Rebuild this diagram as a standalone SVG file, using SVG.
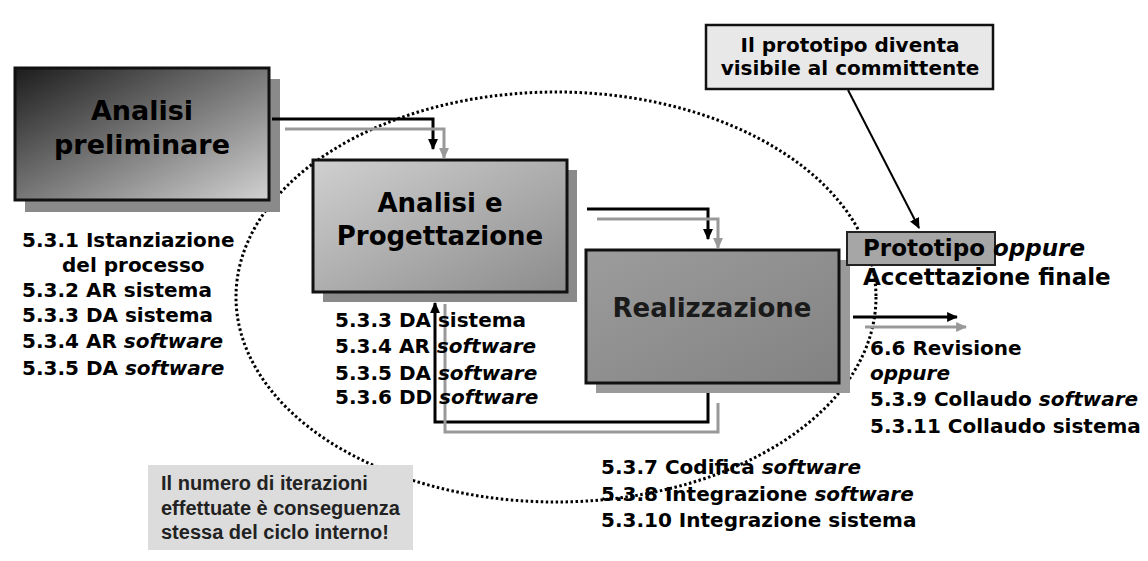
<svg xmlns="http://www.w3.org/2000/svg" width="1148" height="561" viewBox="0 0 1148 561">
<style>
.t{font-family:"DejaVu Sans",Verdana,sans-serif;font-weight:bold;fill:#000}
.i{font-style:italic}
.box{stroke:#111;stroke-width:3}
.sh{fill:#8a8a8a}
.blk{fill:none;stroke:#000;stroke-width:3}
.gry{fill:none;stroke:#999;stroke-width:3}
</style>
<defs>
<linearGradient id="g1" x1="0" y1="0" x2="1" y2="1"><stop offset="0" stop-color="#1c1c1c"/><stop offset="1" stop-color="#d2d2d2"/></linearGradient>
<linearGradient id="g2" x1="0" y1="0" x2="1" y2="1"><stop offset="0" stop-color="#d0d0d0"/><stop offset="1" stop-color="#8c8c8c"/></linearGradient>
<linearGradient id="g3" x1="0" y1="0" x2="1" y2="1"><stop offset="0" stop-color="#9c9c9c"/><stop offset="1" stop-color="#828282"/></linearGradient>
<marker id="ab" viewBox="0 0 10 10" refX="9" refY="5" markerWidth="11" markerHeight="11" orient="auto" markerUnits="userSpaceOnUse"><path d="M0,0.5 L10,5 L0,9.5 z" fill="#000"/></marker>
<marker id="ag" viewBox="0 0 10 10" refX="9" refY="5" markerWidth="11" markerHeight="11" orient="auto" markerUnits="userSpaceOnUse"><path d="M0,0.5 L10,5 L0,9.5 z" fill="#999"/></marker>
</defs>
<rect width="1148" height="561" fill="#fff"/>

<g id="cycle">
<ellipse cx="556" cy="297" rx="320" ry="205" fill="none" stroke="#000" stroke-width="3" stroke-dasharray="2.5 2.5"/>
</g>

<g id="node-analisi-preliminare">
<rect class="sh" x="25" y="79" width="255" height="133"/>
<rect class="box" x="15" y="68" width="254" height="132" fill="url(#g1)"/>
<text class="t" x="142" y="120" font-size="27" text-anchor="middle">Analisi</text>
<text class="t" x="142" y="154" font-size="27" text-anchor="middle">preliminare</text>
</g>

<g id="node-analisi-progettazione">
<rect class="sh" x="323" y="170" width="254" height="132"/>
<rect class="box" x="313" y="160" width="254" height="132" fill="url(#g2)"/>
<text class="t" x="440" y="212" font-size="26" text-anchor="middle">Analisi e</text>
<text class="t" x="440" y="245" font-size="26" text-anchor="middle">Progettazione</text>
</g>

<g id="node-realizzazione">
<rect x="596" y="260" width="254" height="133" fill="#9a9a9a"/>
<rect class="box" x="586" y="250" width="253" height="133" fill="url(#g3)"/>
<text class="t" x="712" y="317" font-size="26" text-anchor="middle" style="fill:#1a1a1a">Realizzazione</text>
</g>

<g id="node-callout">
<rect x="706" y="25" width="287" height="64" fill="#e8e8e8" stroke="#111" stroke-width="2.5"/>
<text class="t" x="850" y="52" font-size="20" text-anchor="middle">Il prototipo diventa</text>
<text class="t" x="850" y="75" font-size="20" text-anchor="middle">visibile al committente</text>
</g>

<g id="node-prototipo">
<rect x="847" y="232" width="148" height="33" fill="#a6a6a6" stroke="#222" stroke-width="2"/>
<text class="t" x="863" y="256" font-size="23">Prototipo <tspan class="i">oppure</tspan></text>
<text class="t" x="863" y="285" font-size="23">Accettazione finale</text>
</g>

<g id="connectors">
<path class="blk" d="M272,119 H433 V149" marker-end="url(#ab)"/>
<path class="gry" d="M285,129 H444 V158" marker-end="url(#ag)"/>
<path class="blk" d="M587,209 H708 V239" marker-end="url(#ab)"/>
<path class="gry" d="M597,219 H718 V248" marker-end="url(#ag)"/>
<path class="blk" d="M853,317 H957" marker-end="url(#ab)"/>
<path class="gry" d="M865,327 H966" marker-end="url(#ag)"/>
<path class="blk" d="M708,393 V422 H435 V303" marker-end="url(#ab)"/>
<path class="gry" d="M718,403 V432 H445 V304"/>
<path d="M848,90 L919,228" fill="none" stroke="#000" stroke-width="2" marker-end="url(#ab)"/>
</g>

<g id="labels-preliminare">
<text class="t" font-size="20" x="22" y="247">5.3.1 Istanziazione</text>
<text class="t" font-size="20" x="62" y="272">del processo</text>
<text class="t" font-size="20" x="22" y="297">5.3.2 AR sistema</text>
<text class="t" font-size="20" x="22" y="322">5.3.3 DA sistema</text>
<text class="t" font-size="20" x="22" y="348">5.3.4 AR <tspan class="i">software</tspan></text>
<text class="t" font-size="20" x="22" y="375">5.3.5 DA <tspan class="i">software</tspan></text>
</g>

<g id="labels-progettazione">
<text class="t" font-size="20" x="335" y="327">5.3.3 DA sistema</text>
<text class="t" font-size="20" x="335" y="353">5.3.4 AR <tspan class="i">software</tspan></text>
<text class="t" font-size="20" x="335" y="380">5.3.5 DA <tspan class="i">software</tspan></text>
<text class="t" font-size="20" x="335" y="404">5.3.6 DD <tspan class="i">software</tspan></text>
</g>

<g id="labels-realizzazione">
<text class="t" font-size="20" x="601" y="474">5.3.7 Codifica <tspan class="i">software</tspan></text>
<text class="t" font-size="20" x="601" y="501">5.3.8 Integrazione <tspan class="i">software</tspan></text>
<text class="t" font-size="20" x="601" y="527">5.3.10 Integrazione sistema</text>
</g>

<g id="labels-verifica">
<text class="t" font-size="20" x="870" y="355">6.6 Revisione</text>
<text class="t i" font-size="20" x="870" y="380">oppure</text>
<text class="t" font-size="20" x="870" y="406">5.3.9 Collaudo <tspan class="i">software</tspan></text>
<text class="t" font-size="20" x="870" y="433">5.3.11 Collaudo sistema</text>
</g>

<g id="node-note">
<rect x="148" y="465" width="265" height="85" fill="#dcdcdc"/>
<text font-family="'Liberation Sans',Arial,sans-serif" font-weight="bold" font-size="20" fill="#222">
<tspan x="161" y="490">Il numero di iterazioni</tspan>
<tspan x="161" y="515">effettuate è conseguenza</tspan>
<tspan x="161" y="539">stessa del ciclo interno!</tspan>
</text>
</g>
</svg>
